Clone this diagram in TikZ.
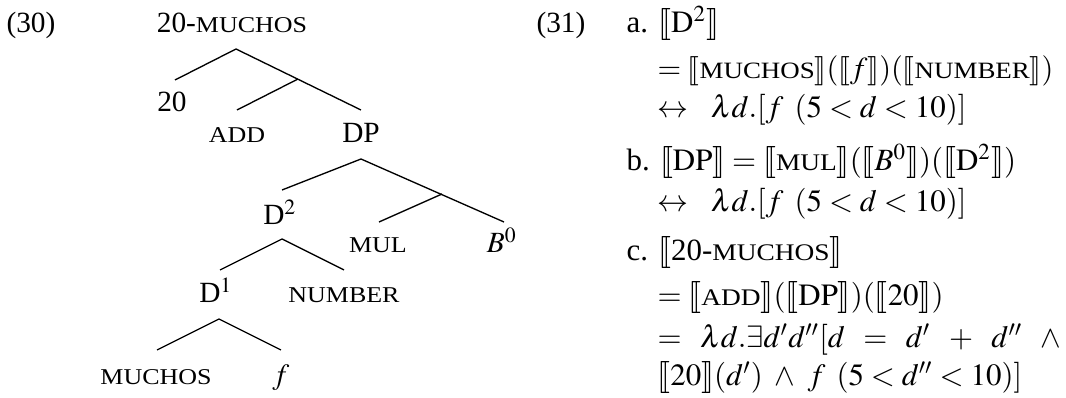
\documentclass[tikz,border=0pt]{standalone}
\usepackage{mathptmx}
\usepackage{stmaryrd}
\usepackage[no-math]{fontspec}
\setmainfont{Liberation Serif}
\newfontfamily\scfam[Scale=0.77,FakeStretch=1.15]{Liberation Serif}
\newcommand\SCx[1]{{\scfam #1}}
\newcommand\LB{\llbracket}
\newcommand\RB{\rrbracket}
\begin{document}
\begin{tikzpicture}[x=0.375pt,y=-0.375pt,
  lbl/.style={anchor=base,inner sep=0pt,font=\fontsize{11pt}{13.6pt}\selectfont},
  ln/.style={anchor=base west,inner sep=0pt,font=\fontsize{11pt}{13.6pt}\selectfont},
  mline/.style={anchor=base west,inner sep=0pt,font=\fontsize{11.6pt}{14pt}\selectfont},
  edge/.style={line width=0.5pt}]
\useasboundingbox (0,0) rectangle (1066,398);
% ---- example (30): tree
\node[ln] (n30) at (6,33) {(30)};
\node[lbl] (root) at (232,33) {20-\SCx{MUCHOS}};
\node[lbl] (twenty) at (172,112) {20};
\node[lbl] (add) at (237,143) {\SCx{ADD}};
\node[lbl] (dp) at (361,143) {DP};
\node[lbl] (dtwo) at (280,225) {D$^2$};
\node[lbl] (mul) at (378,253) {\SCx{MUL}};
\node[lbl] (bzero) at (502,253) {$B^0$};
\node[lbl] (done) at (216,303) {D$^1$};
\node[lbl] (number) at (344,303) {\SCx{NUMBER}};
\node[lbl] (muchos) at (156,385) {\SCx{MUCHOS}};
\node[lbl] (f) at (281,385) {$f$};
% apexes and branch ends
\coordinate (a0) at (236,49);
\coordinate (a0l) at (175,80);
\coordinate (a0r) at (361,110);
\coordinate (b1) at (298,79);
\coordinate (b1l) at (237,110);
\coordinate (a1) at (361,159);
\coordinate (a1l) at (282,190);
\coordinate (a1r) at (504,222);
\coordinate (b2) at (442,194);
\coordinate (b2l) at (379,222);
\coordinate (a2) at (282,239);
\coordinate (a2l) at (220,270);
\coordinate (a2r) at (344,270);
\coordinate (a3) at (219,319);
\coordinate (a3l) at (157,350);
\coordinate (a3r) at (281,350);
\draw[edge] (a0l) -- (a0) -- (a0r);
\draw[edge] (b1) -- (b1l);
\draw[edge] (a1l) -- (a1) -- (a1r);
\draw[edge] (b2) -- (b2l);
\draw[edge] (a2l) -- (a2) -- (a2r);
\draw[edge] (a3l) -- (a3) -- (a3r);
% ---- example (31)
\node[ln] (n31) at (536,33) {(31)};
\node[mline] (la) at (626,33) {a. $\LB\mathrm{D}^2\RB$};
\node[mline,font=\fontsize{11.4pt}{14pt}\selectfont] (la2) at (657,79) {$=\LB\mbox{\SCx{MUCHOS}}\RB(\LB f\RB)(\LB\mbox{\SCx{NUMBER}}\RB)$};
\node[mline] (la3) at (657,118) {$\leftrightarrow\ \ \lambda d.[f\ \,(5<d<10)]$};
\node[mline] (lb) at (626,171) {b. $\LB\mathrm{DP}\RB=\LB\mbox{\SCx{MUL}}\RB(\LB B^0\RB)(\LB\mathrm{D}^2\RB)$};
\node[mline] (lb2) at (657,212) {$\leftrightarrow\ \ \lambda d.[f\ \,(5<d<10)]$};
\node[mline] (lc) at (626,261) {c. $\LB\mbox{20-\SCx{MUCHOS}}\RB$};
\node[mline] (lc2) at (657,306) {$=\LB\mbox{\SCx{ADD}}\RB(\LB\mathrm{DP}\RB)(\LB 20\RB)$};
\node[mline] (lc3) at (657,348) {\makebox[151.5pt][l]{$=$\hfill$\lambda d.\exists d'd''[d$\hfill$=$\hfill$d'$\hfill$+$\hfill$d''$\hfill$\wedge$}};
\node[mline] (lc4) at (657,386) {$\LB 20\RB(d')\ \wedge\ f\ \,(5<d''<10)]$};
\end{tikzpicture}
\end{document}
